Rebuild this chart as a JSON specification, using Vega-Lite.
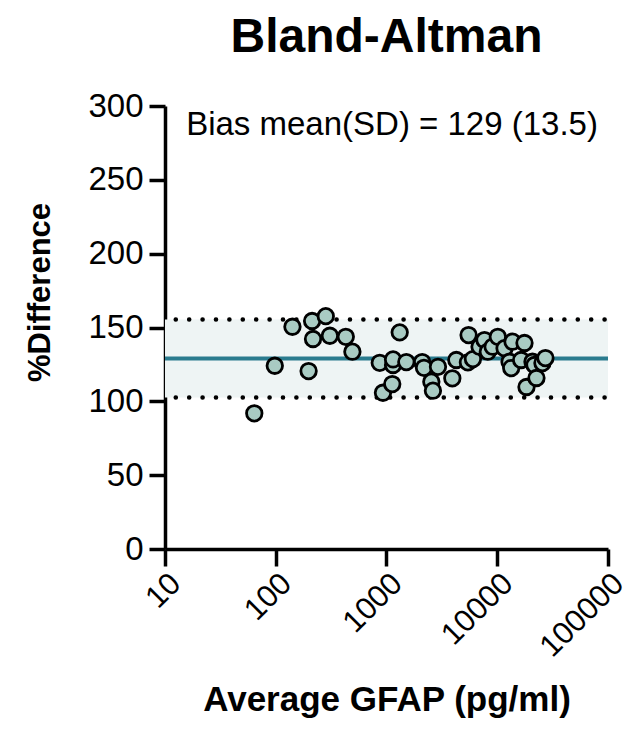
{
  "$schema": "https://vega.github.io/schema/vega-lite/v6.json",
  "width": 443,
  "height": 443,
  "autosize": {"type": "none"},
  "padding": {"left": 165, "top": 106, "right": 36, "bottom": 195},
  "background": "white",
  "config": {
    "view": {"stroke": null},
    "font": "Liberation Sans",
    "axis": {"grid": false, "domainColor": "black", "domainWidth": 3.5, "tickColor": "black", "tickWidth": 3.5, "labelColor": "black", "titleColor": "black", "labelFont": "Liberation Sans", "titleFont": "Liberation Sans"}
  },
  "title": {"text": "Bland-Altman", "fontSize": 48, "fontWeight": "bold", "font": "Liberation Sans", "color": "black", "anchor": "middle", "offset": 28},
  "layer": [
    {
      "data": {"values": [{"x": 10, "x2": 100000, "lo": 102.54, "hi": 155.46}]},
      "mark": {"type": "rect", "color": "#eef4f4"},
      "encoding": {
        "x": {"field": "x", "type": "quantitative", "scale": {"type": "log", "domain": [10, 100000]},
          "axis": {"values": [10, 100, 1000, 10000, 100000], "format": "d", "labelAngle": -45, "labelAlign": "right", "labelBaseline": "top", "labelFontSize": 31, "tickSize": 17, "labelPadding": 2, "labelDx": 6, "title": "Average GFAP (pg/ml)", "titleFontSize": 35, "titleFontWeight": "bold", "titlePadding": 20, "labelOverlap": false, "labelFlush": false}},
        "x2": {"field": "x2"},
        "y": {"field": "lo", "type": "quantitative", "scale": {"domain": [0, 300]},
          "axis": {"values": [0, 50, 100, 150, 200, 250, 300], "labelFontSize": 33, "tickSize": 16, "labelPadding": 6, "title": "%Difference", "titleFontSize": 31, "titleFontWeight": "bold", "titleX": -125, "titleY": 186, "titleAlign": "center", "titleBaseline": "middle", "titleAngle": -90}},
        "y2": {"field": "hi"}
      }
    },
    {
      "data": {"values": [{"x": 10, "x2": 100000, "y": 129}]},
      "mark": {"type": "rule", "color": "#2a7b8e", "strokeWidth": 4},
      "encoding": {
        "x": {"field": "x", "type": "quantitative"},
        "x2": {"field": "x2"},
        "y": {"field": "y", "type": "quantitative"}
      }
    },
    {
      "data": {"values": [{"x": 12.5, "x2": 100000, "y": 155.46}, {"x": 12.5, "x2": 100000, "y": 102.54}]},
      "mark": {"type": "rule", "color": "black", "strokeWidth": 4.5, "strokeDash": [0.1, 13.3], "strokeCap": "round"},
      "encoding": {
        "x": {"field": "x", "type": "quantitative"},
        "x2": {"field": "x2"},
        "y": {"field": "y", "type": "quantitative"}
      }
    },
    {
      "data": {"values": [
        {"avg": 64, "diff": 91.9},
        {"avg": 98, "diff": 124.1},
        {"avg": 141.5, "diff": 150.5},
        {"avg": 213, "diff": 154.4},
        {"avg": 283, "diff": 157.7},
        {"avg": 217, "diff": 142.2},
        {"avg": 308, "diff": 144.4},
        {"avg": 429, "diff": 143.7},
        {"avg": 492, "diff": 133.6},
        {"avg": 198, "diff": 120.5},
        {"avg": 869, "diff": 126.1},
        {"avg": 929, "diff": 105.8},
        {"avg": 1127, "diff": 111.7},
        {"avg": 1146, "diff": 124.6},
        {"avg": 1146, "diff": 128.4},
        {"avg": 1316, "diff": 146.7},
        {"avg": 1510, "diff": 126.6},
        {"avg": 2100, "diff": 126.6},
        {"avg": 2180, "diff": 122.7},
        {"avg": 2540, "diff": 113.3},
        {"avg": 2625, "diff": 107.2},
        {"avg": 2915, "diff": 123.4},
        {"avg": 3930, "diff": 115.6},
        {"avg": 4270, "diff": 128.0},
        {"avg": 5430, "diff": 126.4},
        {"avg": 5510, "diff": 144.9},
        {"avg": 6030, "diff": 128.6},
        {"avg": 6920, "diff": 137.0},
        {"avg": 7670, "diff": 141.5},
        {"avg": 8220, "diff": 133.6},
        {"avg": 9080, "diff": 137.0},
        {"avg": 10120, "diff": 143.7},
        {"avg": 11640, "diff": 136.0},
        {"avg": 12910, "diff": 126.8},
        {"avg": 13370, "diff": 122.5},
        {"avg": 13740, "diff": 140.4},
        {"avg": 16440, "diff": 128.0},
        {"avg": 17620, "diff": 139.5},
        {"avg": 18370, "diff": 109.7},
        {"avg": 20800, "diff": 126.8},
        {"avg": 21680, "diff": 124.6},
        {"avg": 22590, "diff": 115.8},
        {"avg": 25590, "diff": 125.9},
        {"avg": 27230, "diff": 129.3}
      ]},
      "mark": {"type": "point", "shape": "circle", "filled": true, "fill": "#a9cbc3", "stroke": "black", "strokeWidth": 2.8, "size": 240, "opacity": 1},
      "encoding": {
        "x": {"field": "avg", "type": "quantitative"},
        "y": {"field": "diff", "type": "quantitative"}
      }
    },
    {
      "data": {"values": [{"x": 1122, "y": 287, "label": "Bias mean(SD) = 129 (13.5)"}]},
      "mark": {"type": "text", "fontSize": 33, "font": "Liberation Sans", "color": "black", "align": "center", "baseline": "middle"},
      "encoding": {
        "x": {"field": "x", "type": "quantitative"},
        "y": {"field": "y", "type": "quantitative"},
        "text": {"field": "label"}
      }
    }
  ]
}
